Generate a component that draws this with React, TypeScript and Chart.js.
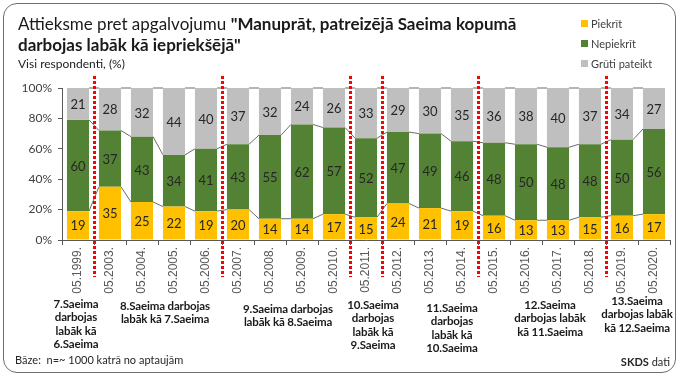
import React, { useEffect, useRef } from 'react';
import { Chart, registerables } from 'chart.js';

Chart.register(...registerables);

const categories = [
  '05.1999.', '05.2003.', '05.2004.', '05.2005.', '05.2006.', '05.2007.', '05.2008.',
  '05.2009.', '05.2010.', '05.2011.', '05.2012.', '05.2013.', '05.2014.', '05.2015.',
  '05.2016.', '05.2017.', '05.2018.', '05.2019.', '05.2020.',
];
const piekrit = [19, 35, 25, 22, 19, 20, 14, 14, 17, 15, 24, 21, 19, 16, 13, 13, 15, 16, 17];
const nepiekrit = [60, 37, 43, 34, 41, 43, 55, 62, 57, 52, 47, 49, 46, 48, 50, 48, 48, 50, 56];
const grutiPateikt = [21, 28, 32, 44, 40, 37, 32, 24, 26, 33, 29, 30, 35, 36, 38, 40, 37, 34, 27];
const yTickValues = [0, 20, 40, 60, 80, 100];
// index of the survey after which a new Saeima starts
const termDividersAfter = [0, 4, 8, 9, 12, 16];
const termNotes = [
  ['7.Saeima', 'darbojas', 'labāk kā', '6.Saeima'],
  ['8.Saeima darbojas', 'labāk kā 7.Saeima'],
  ['9.Saeima darbojas', 'labāk kā 8.Saeima'],
  ['10.Saeima', 'darbojas', 'labāk kā', '9.Saeima'],
  ['11.Saeima', 'darbojas', 'labāk kā', '10.Saeima'],
  ['12.Saeima', 'darbojas labāk', 'kā 11.Saeima'],
  ['13.Saeima', 'darbojas labāk', 'kā 12.Saeima'],
];
const noteLayout = [
  { cx: 76, top: 297 },
  { cx: 165, top: 299 },
  { cx: 288, top: 302 },
  { cx: 373, top: 298 },
  { cx: 452, top: 301 },
  { cx: 550, top: 298 },
  { cx: 637, top: 294 },
];

const COLORS = { piekrit: '#FFC000', nepiekrit: '#548235', gruti: '#BFBFBF' };
const FONT = 'Lato, "Open Sans", sans-serif';
const NARROW = '"Liberation Sans Narrow", "Arial Narrow", "Liberation Sans", sans-serif';

const seriesLines = {
  id: 'seriesLines',
  beforeDatasetsDraw(chart: any) {
    const ctx = chart.ctx;
    const top = chart.chartArea.top;
    ctx.save();
    ctx.strokeStyle = '#6b6b6b';
    ctx.lineWidth = 1;
    chart.data.datasets.forEach((_: any, di: number) => {
      const els = chart.getDatasetMeta(di).data;
      for (let i = 0; i < els.length - 1; i++) {
        const a = els[i];
        const b = els[i + 1];
        ctx.beginPath();
        ctx.moveTo(a.x + a.width / 2, Math.max(a.y, top));
        ctx.lineTo(b.x - b.width / 2, Math.max(b.y, top));
        ctx.stroke();
      }
    });
    ctx.restore();
  },
};

const segmentLabels = {
  id: 'segmentLabels',
  afterDatasetsDraw(chart: any) {
    const ctx = chart.ctx;
    const top = chart.chartArea.top;
    ctx.save();
    ctx.font = `13px ${FONT}`;
    ctx.fillStyle = '#262626';
    ctx.textAlign = 'center';
    ctx.textBaseline = 'middle';
    chart.data.datasets.forEach((ds: any, di: number) => {
      chart.getDatasetMeta(di).data.forEach((el: any, i: number) => {
        const y1 = Math.max(el.y, top);
        const cy = (y1 + el.base) / 2;
        ctx.fillText(String(ds.data[i]), el.x, cy + 1);
      });
    });
    ctx.restore();
  },
};

const termDividers = {
  id: 'termDividers',
  afterDraw(chart: any) {
    const ctx = chart.ctx;
    const xs = chart.scales.x;
    ctx.save();
    ctx.strokeStyle = '#FF0000';
    ctx.lineWidth = 3;
    ctx.setLineDash([3, 2]);
    termDividersAfter.forEach((i) => {
      const x = Math.round((xs.getPixelForValue(i) + xs.getPixelForValue(i + 1)) / 2) + 0.5;
      ctx.beginPath();
      ctx.moveTo(x, 76);
      ctx.lineTo(x, 277);
      ctx.stroke();
    });
    ctx.restore();
  },
};

function ChartCanvas() {
  const ref = useRef<HTMLCanvasElement | null>(null);
  useEffect(() => {
    if (!ref.current) return;
    const chart = new Chart(ref.current, {
      type: 'bar',
      data: {
        labels: categories,
        datasets: [
          { label: 'Piekrīt', data: piekrit, backgroundColor: COLORS.piekrit },
          { label: 'Nepiekrīt', data: nepiekrit, backgroundColor: COLORS.nepiekrit },
          { label: 'Grūti pateikt', data: grutiPateikt, backgroundColor: COLORS.gruti },
        ],
      },
      options: {
        responsive: false,
        animation: false,
        events: [],
        layout: { padding: { top: 88, right: 10, left: 0, bottom: 0 } },
        datasets: { bar: { barPercentage: 0.69, categoryPercentage: 1 } },
        plugins: { legend: { display: false }, title: { display: false }, tooltip: { enabled: false } },
        scales: {
          x: {
            stacked: true,
            offset: true,
            border: { display: true, color: '#595959', width: 1 },
            grid: { display: true, offset: true, drawOnChartArea: false, drawTicks: true, tickLength: 5, color: '#595959' },
            ticks: {
              autoSkip: false,
              minRotation: 90,
              maxRotation: 90,
              padding: 2,
              color: '#595959',
              font: { family: NARROW, size: 12 },
            },
            afterFit(scale: any) { scale.height = 137; },
          },
          y: {
            stacked: true,
            min: 0,
            max: 100,
            afterBuildTicks(scale: any) { scale.ticks = yTickValues.map((v) => ({ value: v })); },
            border: { display: true, color: '#595959', width: 1 },
            grid: { display: true, drawOnChartArea: false, drawTicks: true, tickLength: 4, color: '#595959' },
            ticks: {
              padding: 6,
              color: '#404040',
              font: { family: FONT, size: 12 },
              callback: (v: any) => `${v}%`,
            },
            afterFit(scale: any) { scale.width = 62; },
          },
        },
      },
      plugins: [seriesLines, segmentLabels, termDividers],
    });
    return () => chart.destroy();
  }, []);
  return <canvas ref={ref} width={680} height={377} style={{ position: 'absolute', left: 0, top: 0, width: 680, height: 377 }} />;
}

export default function App() {
  const legendItems = [
    { label: 'Piekrīt', color: COLORS.piekrit, cy: 23 },
    { label: 'Nepiekrīt', color: COLORS.nepiekrit, cy: 43 },
    { label: 'Grūti pateikt', color: COLORS.gruti, cy: 63 },
  ];
  return (
    <div style={{ position: 'fixed', left: 0, top: 0, width: 680, height: 377, background: '#fff', fontFamily: FONT, overflow: 'hidden' }}>
      <div style={{ position: 'absolute', left: 3, top: 3, width: 671, height: 368, border: '1.5px solid #6f6f6f', borderRadius: 14 }} />
      <ChartCanvas />
      <div style={{ position: 'absolute', left: 18, top: 13, fontSize: 17, lineHeight: '21px', color: '#1a1a1a', whiteSpace: 'nowrap' }}>
        <div>Attieksme pret apgalvojumu <b>"Manuprāt, patreizējā Saeima kopumā</b></div>
        <div><b>darbojas labāk kā iepriekšējā"</b></div>
      </div>
      <div style={{ position: 'absolute', left: 18, top: 57, fontSize: 12, lineHeight: '14px', color: '#1a1a1a', whiteSpace: 'nowrap' }}>
        Visi respondenti, (%)
      </div>
      {legendItems.map((it) => (
        <div key={it.label} style={{ position: 'absolute', left: 581, top: it.cy - 7, height: 14, display: 'flex', alignItems: 'center', fontSize: 11, color: '#404040', whiteSpace: 'nowrap' }}>
          <span style={{ display: 'inline-block', width: 7, height: 7, background: it.color, marginRight: 3 }} />
          {it.label}
        </div>
      ))}
      {termNotes.map((lines, i) => (
        <div key={i} style={{ position: 'absolute', left: noteLayout[i].cx - 70, top: noteLayout[i].top, width: 140, textAlign: 'center', fontSize: 11.5, letterSpacing: '-0.15px', lineHeight: '13.4px', fontWeight: 700, color: '#1a1a1a' }}>
          {lines.map((l, j) => <div key={j}>{l}</div>)}
        </div>
      ))}
      <div style={{ position: 'absolute', left: 15, top: 353, fontSize: 11, lineHeight: '14px', color: '#262626', whiteSpace: 'nowrap' }}>
        Bāze:&nbsp; n=~ 1000 katrā no aptaujām
      </div>
      <div style={{ position: 'absolute', right: 10, top: 355, fontSize: 11, lineHeight: '14px', color: '#262626', whiteSpace: 'nowrap' }}>
        <b>SKDS</b> dati
      </div>
    </div>
  );
}
